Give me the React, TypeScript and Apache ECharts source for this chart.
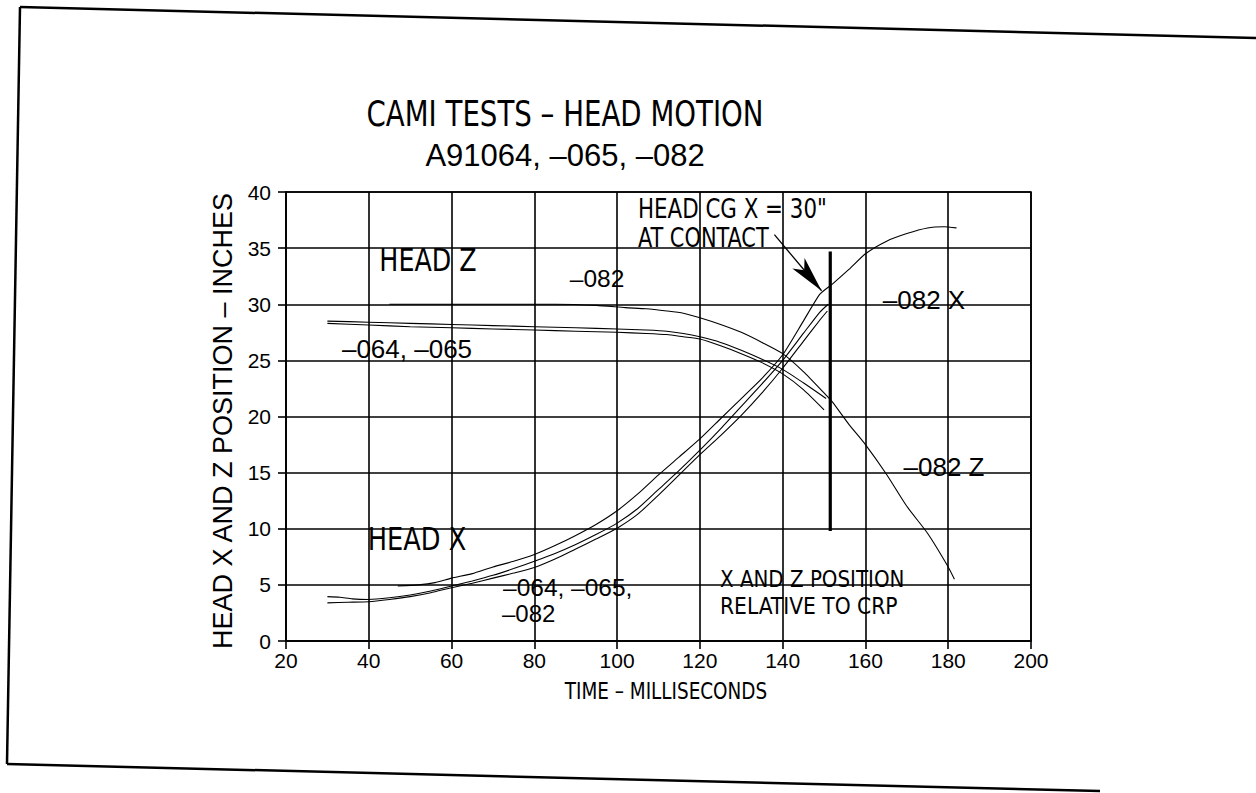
import { useEffect, useRef } from "react";
import * as echarts from "echarts";

// ---- axis definitions ----
const X_MIN = 20;
const X_MAX = 200;
const X_STEP = 20;
const Y_MIN = 0;
const Y_MAX = 40;
const Y_STEP = 5;

// ---- HEAD X curves ----
const x082T = [47, 52, 56, 60, 65, 70, 75, 80, 85, 90, 95, 100, 105, 110, 115, 120, 125, 130, 135, 140, 145, 149, 152, 156, 160, 165, 170, 175, 179, 182];
const x082V = [4.9, 5.0, 5.2, 5.6, 6.0, 6.6, 7.1, 7.7, 8.5, 9.4, 10.4, 11.6, 13.1, 14.8, 16.4, 18.0, 19.8, 21.6, 23.4, 25.5, 28.5, 30.9, 31.8, 33.1, 34.5, 35.6, 36.3, 36.8, 36.9, 36.8];

const x064T = [30, 33, 36, 40, 45, 50, 55, 60, 65, 70, 75, 80, 85, 90, 95, 100, 105, 110, 115, 120, 125, 130, 135, 140, 145, 149, 151];
const x064V = [3.95, 3.9, 3.75, 3.7, 3.85, 4.1, 4.45, 4.9, 5.35, 5.85, 6.45, 7.1, 7.8, 8.6, 9.5, 10.5, 11.8, 13.5, 15.2, 17.0, 18.9, 20.9, 22.9, 25.0, 27.4, 29.3, 30.0];

const x065T = [30, 35, 40, 45, 50, 55, 60, 65, 70, 75, 80, 85, 90, 95, 100, 105, 110, 115, 120, 125, 130, 135, 140, 145, 149, 150.8];
const x065V = [3.4, 3.45, 3.5, 3.7, 3.95, 4.3, 4.75, 5.15, 5.6, 6.05, 6.55, 7.3, 8.2, 9.1, 10.05, 11.3, 13.0, 14.8, 16.6, 18.3, 20.1, 22.1, 24.3, 26.7, 28.6, 29.4];

// ---- HEAD Z curves ----
const z082T = [45, 55, 65, 75, 85, 95, 102, 107, 112, 116, 120, 125, 130, 135, 140, 145, 150, 152, 156, 160, 165, 170, 175, 180, 181.5];
const z082V = [30.0, 30.0, 30.0, 30.0, 30.0, 29.9, 29.7, 29.6, 29.4, 29.2, 28.8, 28.2, 27.5, 26.6, 25.6, 24.0, 22.1, 21.3, 19.3, 17.5, 14.9, 12.0, 9.6, 6.6, 5.5];

const z064T = [30, 40, 50, 60, 70, 80, 90, 100, 107, 112, 116, 120, 125, 130, 135, 140, 145, 150.5];
const z064V = [28.5, 28.4, 28.3, 28.2, 28.1, 28.0, 27.9, 27.8, 27.7, 27.6, 27.4, 27.1, 26.6, 25.9, 25.1, 24.2, 23.0, 21.6];

const z065T = [30, 40, 50, 60, 70, 80, 90, 100, 107, 112, 116, 120, 125, 130, 135, 140, 145, 150];
const z065V = [28.3, 28.15, 28.0, 27.9, 27.8, 27.7, 27.6, 27.5, 27.4, 27.3, 27.1, 26.9, 26.3, 25.6, 24.8, 23.8, 22.4, 20.6];

// ---- contact marker ----
const contactT = [151.5, 151.5];
const contactV = [9.8, 34.7];
const arrowT = [138, 149.4];
const arrowV = [36.2, 31.2];

const NARROW = "'Liberation Sans Narrow', 'DejaVu Sans Condensed', sans-serif";
const REG = "'Liberation Sans', Arial, sans-serif";

const zip = (t: number[], v: number[]) => t.map((x, i) => [x, v[i]]);

type Lbl = { text: string; x: number; y: number; size: number; font: string; align?: string; rot?: number; sx?: number };
const labels: Lbl[] = [
  { text: "CAMI TESTS – HEAD MOTION", x: 565, y: 114, size: 35, font: NARROW, sx: 0.878 },
  { text: "A91064, –065, –082", x: 565, y: 155, size: 31, font: REG },
  { text: "HEAD Z", x: 428, y: 260, size: 32, font: NARROW, sx: 0.88 },
  { text: "–082", x: 597, y: 278, size: 24.5, font: REG },
  { text: "–064, –065", x: 407, y: 349, size: 26, font: REG },
  { text: "HEAD CG X = 30\"", x: 638, y: 208, size: 27, font: NARROW, align: "left", sx: 0.88 },
  { text: "AT CONTACT", x: 638, y: 238, size: 27, font: NARROW, align: "left", sx: 0.86 },
  { text: "–082 X", x: 924, y: 300, size: 26, font: REG },
  { text: "–082 Z", x: 944, y: 467, size: 26, font: REG },
  { text: "HEAD X", x: 417, y: 539, size: 32, font: NARROW, sx: 0.89 },
  { text: "–064, –065,", x: 503, y: 587, size: 24.5, font: REG, align: "left" },
  { text: "–082", x: 502, y: 613, size: 24, font: REG, align: "left" },
  { text: "X AND Z POSITION", x: 720, y: 579, size: 23.5, font: NARROW, align: "left", sx: 0.94 },
  { text: "RELATIVE TO CRP", x: 720, y: 606, size: 23.5, font: NARROW, align: "left", sx: 0.96 },
  { text: "HEAD X AND Z POSITION – INCHES", x: 223, y: 421, size: 27, font: REG, rot: Math.PI / 2 },
  { text: "TIME – MILLISECONDS", x: 666, y: 691, size: 23.5, font: NARROW, sx: 0.87 },
];

export default function App() {
  const ref = useRef<HTMLDivElement>(null);
  useEffect(() => {
    if (!ref.current) return;
    const chart = echarts.init(ref.current, undefined, { renderer: "svg" });
    const curve = (name: string, t: number[], v: number[]) => ({
      type: "line",
      name,
      data: zip(t, v),
      showSymbol: false,
      symbol: "none",
      smooth: 0.2,
      silent: true,
      lineStyle: { color: "#000", width: 1.1 },
      z: 3,
    });
    const graphic: any[] = labels.map((l) => ({
      type: "text",
      x: l.x,
      y: l.y,
      rotation: l.rot || 0,
      scaleX: l.sx || 1,
      silent: true,
      style: {
        text: l.text,
        fill: "#000",
        fontSize: l.size,
        fontFamily: l.font,
        textAlign: l.align || "center",
        align: l.align || "center",
        textVerticalAlign: "middle",
        verticalAlign: "middle",
      },
      z: 10,
    }));
    // scanned page frame
    const frame = [
      [20, 7, 1256, 38],
      [20, 7, 7, 764],
      [7, 764, 1100, 791],
    ];
    frame.forEach((f) =>
      graphic.push({
        type: "line",
        shape: { x1: f[0], y1: f[1], x2: f[2], y2: f[3] },
        style: { stroke: "#000", lineWidth: 2.5 },
        silent: true,
      })
    );
    chart.setOption({
      animation: false,
      backgroundColor: "#fff",
      grid: {
        left: 286,
        right: 225,
        top: 192,
        bottom: 152,
        show: true,
        borderColor: "#000",
        borderWidth: 1.6,
      },
      xAxis: {
        type: "value",
        min: X_MIN,
        max: X_MAX,
        interval: X_STEP,
        axisLine: { show: true, lineStyle: { color: "#000", width: 1.6 } },
        axisTick: { show: true, length: 8, lineStyle: { color: "#000", width: 1.6 } },
        axisLabel: { color: "#000", fontSize: 21, fontFamily: REG, margin: 9 },
        splitLine: { show: true, lineStyle: { color: "#000", width: 1.6 } },
      },
      yAxis: {
        type: "value",
        min: Y_MIN,
        max: Y_MAX,
        interval: Y_STEP,
        axisLine: { show: true, lineStyle: { color: "#000", width: 1.6 } },
        axisTick: { show: true, length: 8, lineStyle: { color: "#000", width: 1.6 } },
        axisLabel: { color: "#000", fontSize: 21, fontFamily: REG, margin: 15 },
        splitLine: { show: true, lineStyle: { color: "#000", width: 1.6 } },
      },
      series: [
        curve("-082 X", x082T, x082V),
        curve("-064 X", x064T, x064V),
        curve("-065 X", x065T, x065V),
        curve("-082 Z", z082T, z082V),
        curve("-064 Z", z064T, z064V),
        curve("-065 Z", z065T, z065V),
        {
          type: "line",
          name: "contact",
          data: zip(contactT, contactV),
          showSymbol: false,
          symbol: "none",
          silent: true,
          lineStyle: { color: "#000", width: 3.2 },
          z: 4,
          markLine: {
            silent: true,
            symbol: ["none", "arrow"],
            symbolSize: [12, 36],
            label: { show: false },
            lineStyle: { color: "#000", width: 1.3, type: "solid" },
            itemStyle: { color: "#000" },
            data: [[{ coord: [arrowT[0], arrowV[0]] }, { coord: [arrowT[1], arrowV[1]] }]],
          },
        },
      ],
      graphic,
    });
    return () => chart.dispose();
  }, []);
  return <div ref={ref} style={{ position: "absolute", left: 0, top: 0, width: 1256, height: 793 }} />;
}
